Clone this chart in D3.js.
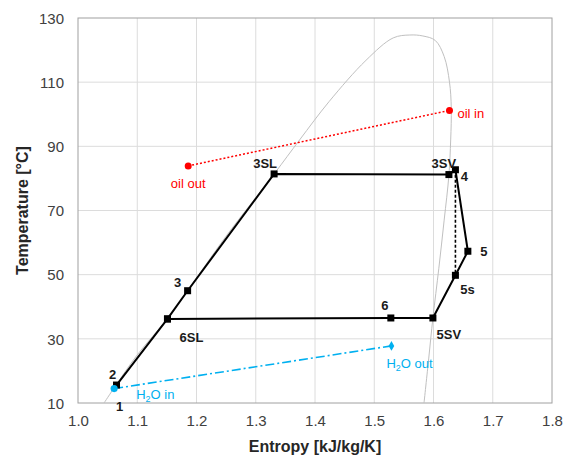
<!DOCTYPE html>
<html><head><meta charset="utf-8">
<script src="https://cdn.jsdelivr.net/npm/d3@7"></script>
<style>body{margin:0;background:#fff}svg{display:block;font-family:"Liberation Sans",Arial,sans-serif}</style>
</head><body><svg id="c" width="573" height="458"></svg>
<script>
// ---- data ----
const xTicks = [1.0,1.1,1.2,1.3,1.4,1.5,1.6,1.7,1.8];
const yTicks = [10,30,50,70,90,110,130];
const domeS = [1.044,1.062,1.100,1.151,1.185,1.250,1.331,1.374,1.424,1.486,1.532,1.560,1.582,1.603,1.618,1.627,1.630,1.629,1.626,1.618,1.609,1.599,1.592,1.584];
const domeT = [10,15,25,36.3,45,62,81.4,92,104,116.8,123.8,124.7,124.4,123,118,110,102,92,81,67,52,36.5,24,10];
const cycleNames = ["1","2","6SL","3","3SL","3SV","4","5","5s","5SV","6","6SL"];
const cycleS = [1.062,1.065,1.151,1.185,1.331,1.626,1.637,1.658,1.637,1.599,1.528,1.151];
const cycleT = [14.8,15.6,36.2,45.0,81.4,81.2,82.7,57.3,49.8,36.5,36.5,36.2];
const isenS = [1.637,1.637];
const isenT = [82.7,49.8];
const oilNames = ["oil out","oil in"];
const oilS = [1.186,1.627];
const oilT = [83.9,101.2];
const waterNames = ["H2O in","H2O out"];
const waterS = [1.061,1.529];
const waterT = [14.5,27.8];

// ---- layout ----
const svg = d3.select("#c");
const L=78,R=552,T=18,B=403;
const x = d3.scaleLinear().domain([1.0,1.8]).range([L,R]);
const y = d3.scaleLinear().domain([10,130]).range([B,T]);

// grid
svg.append("g").selectAll("line").data(xTicks.slice(1,-1)).join("line")
  .attr("x1",d=>x(d)).attr("x2",d=>x(d)).attr("y1",T).attr("y2",B)
  .attr("stroke","#dcdcdc").attr("stroke-width",1);
svg.append("g").selectAll("line").data(yTicks.slice(1,-1)).join("line")
  .attr("y1",d=>y(d)).attr("y2",d=>y(d)).attr("x1",L).attr("x2",R)
  .attr("stroke","#dcdcdc").attr("stroke-width",1);
svg.append("rect").attr("x",L).attr("y",T).attr("width",R-L).attr("height",B-T)
  .attr("fill","none").attr("stroke","#a0a0a0").attr("stroke-width",1);

// axes
const xa = svg.append("g").attr("transform",`translate(0,${B})`)
  .call(d3.axisBottom(x).tickValues(xTicks).tickFormat(d3.format(".1f")).tickSize(0).tickPadding(12));
const ya = svg.append("g").attr("transform",`translate(${L},0)`)
  .call(d3.axisLeft(y).tickValues(yTicks).tickSize(0).tickPadding(14));
[xa,ya].forEach(a=>{a.select(".domain").remove();
  a.selectAll("text").attr("font-size",15).attr("fill","#404040").attr("font-family","Liberation Sans, Arial, sans-serif");});
ya.selectAll("text").attr("dy","0.35em");

svg.append("text").attr("x",(L+R)/2).attr("y",452).attr("text-anchor","middle")
  .attr("font-size",16).attr("font-weight","bold").attr("fill","#262626").text("Entropy [kJ/kg/K]");
svg.append("text").attr("transform",`translate(28,${(T+B)/2}) rotate(-90)`).attr("text-anchor","middle")
  .attr("font-size",16).attr("font-weight","bold").attr("fill","#262626").text("Temperature [°C]");

const plot = svg.append("g");
// dome
const dome = domeS.map((s,i)=>[s,domeT[i]]);
plot.append("path").datum(dome)
  .attr("d",d3.line().x(d=>x(d[0])).y(d=>y(d[1])).curve(d3.curveCatmullRom.alpha(0.5)))
  .attr("fill","none").attr("stroke","#c0c0c0").attr("stroke-width",1);

// oil
const oil = oilS.map((s,i)=>[s,oilT[i],oilNames[i]]);
plot.append("path").datum(oil).attr("d",d3.line().x(d=>x(d[0])).y(d=>y(d[1])))
  .attr("fill","none").attr("stroke","#ff0000").attr("stroke-width",1.5).attr("stroke-dasharray","2,2");
plot.selectAll(".oilpt").data(oil).join("circle").attr("cx",d=>x(d[0])).attr("cy",d=>y(d[1])).attr("r",3.5).attr("fill","#ff0000");

// water
const water = waterS.map((s,i)=>[s,waterT[i],waterNames[i]]);
plot.append("path").datum(water).attr("d",d3.line().x(d=>x(d[0])).y(d=>y(d[1])))
  .attr("fill","none").attr("stroke","#00b0f0").attr("stroke-width",1.6).attr("stroke-dasharray","9,3,2,3");

// cycle
const cyc = cycleS.map((s,i)=>[s,cycleT[i],cycleNames[i]]);
plot.append("path").datum(cyc).attr("d",d3.line().x(d=>x(d[0])).y(d=>y(d[1])))
  .attr("fill","none").attr("stroke","#000").attr("stroke-width",2).attr("stroke-linejoin","round");
const isen = isenS.map((s,i)=>[s,isenT[i]]);
plot.append("path").datum(isen).attr("d",d3.line().x(d=>x(d[0])).y(d=>y(d[1])))
  .attr("fill","none").attr("stroke","#000").attr("stroke-width",1.6).attr("stroke-dasharray","3,2");
plot.selectAll(".cpt").data(cyc.slice(1)).join("rect")
  .attr("x",d=>x(d[0])-3.5).attr("y",d=>y(d[1])-3.5).attr("width",7).attr("height",7).attr("fill","#000");

// water markers
plot.selectAll(".wpt").data(water).join("path")
  .attr("transform",d=>`translate(${x(d[0])},${y(d[1])})`)
  .attr("d",(d,i)=>d3.symbol().type(i===0?d3.symbolCircle:d3.symbolDiamond).size(i===0?40:28)())
  .attr("fill","#00b0f0");

// labels
const lab = {"1":[5,19,"middle"],"2":[-4,-10,"middle"],"3":[-10,-8,"middle"],"6SL":[24,19,"middle"],
  "3SL":[-9,-10,"middle"],"3SV":[-5,-11,"middle"],"4":[9,7,"middle"],"5":[16,1,"middle"],
  "5s":[12,15,"middle"],"5SV":[16,17,"middle"],"6":[-6,-12,"middle"]};
plot.selectAll(".clab").data(cyc.filter((d,i)=>i<11)).join("text")
  .attr("x",d=>x(d[0])+lab[d[2]][0]).attr("y",d=>y(d[1])+lab[d[2]][1]+4)
  .attr("text-anchor",d=>lab[d[2]][2]).attr("font-size",13).attr("font-weight","bold").attr("fill","#1a1a1a")
  .text(d=>d[2]);

const oilLab = [[0,22,"middle"],[8,8,"start"]];
plot.selectAll(".olab").data(oil).join("text")
  .attr("x",(d,i)=>x(d[0])+oilLab[i][0]).attr("y",(d,i)=>y(d[1])+oilLab[i][1])
  .attr("text-anchor",(d,i)=>oilLab[i][2]).attr("font-size",13).attr("fill","#ff0000").text(d=>d[2]);

const wLab = [[22,10,"start"],[-5,22,"start"]];
const wt = plot.selectAll(".wlab").data(water).join("text")
  .attr("x",(d,i)=>x(d[0])+wLab[i][0]).attr("y",(d,i)=>y(d[1])+wLab[i][1])
  .attr("text-anchor",(d,i)=>wLab[i][2]).attr("font-size",13).attr("fill","#00b0f0");
wt.each(function(d){
  const t=d3.select(this);
  t.append("tspan").text("H");
  t.append("tspan").attr("font-size",9).attr("dy",3).text("2");
  t.append("tspan").attr("dy",-3).text("O "+d[2].split(" ")[1]);
});
</script></body></html>
